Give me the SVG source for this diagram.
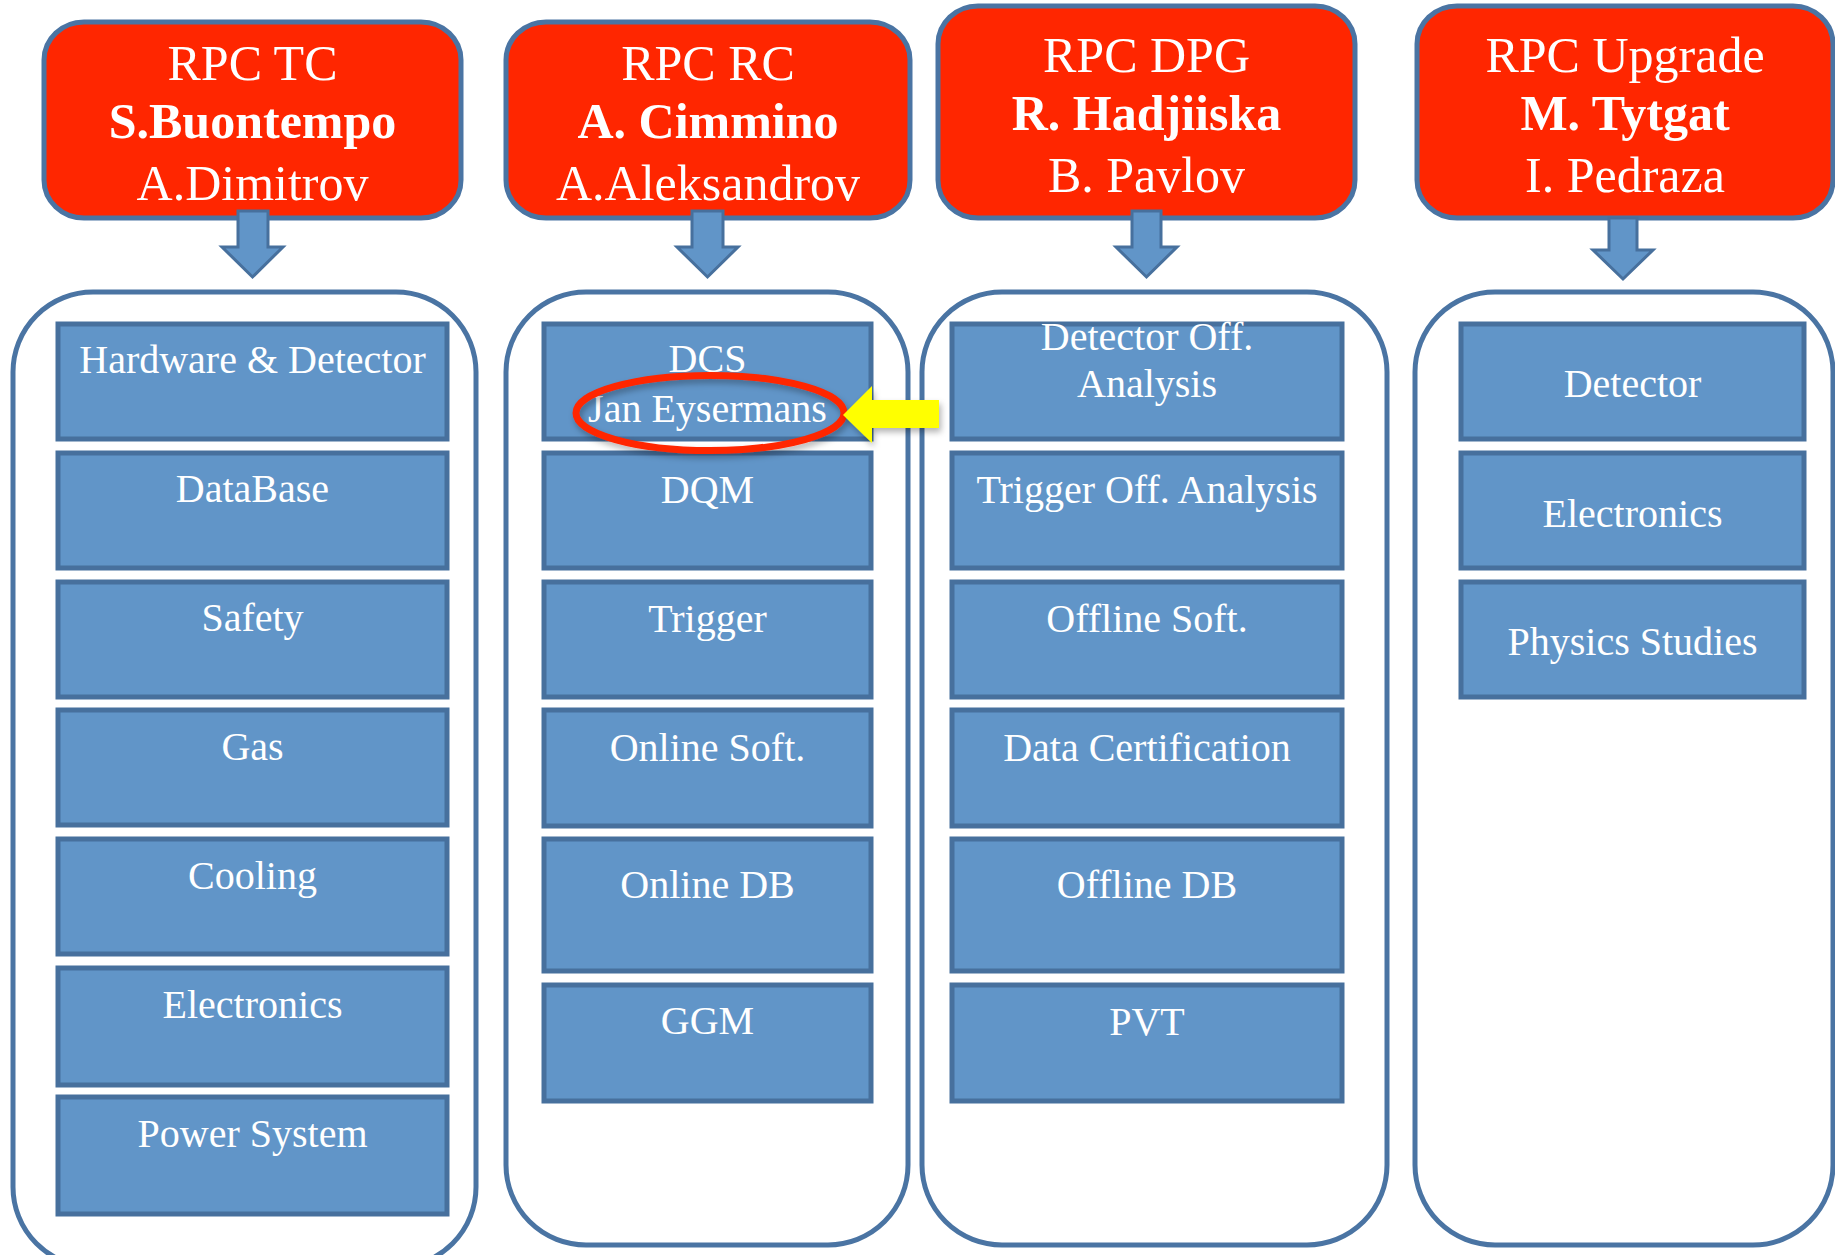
<svg xmlns="http://www.w3.org/2000/svg" width="1835" height="1255" viewBox="0 0 1835 1255">
<defs>
<style>
.hdr{fill:#ff2600;stroke:#4a74a3;stroke-width:5}
.col{fill:#ffffff;stroke:#4a74a3;stroke-width:5}
.box{fill:#6195c8;stroke:#47709d;stroke-width:5}
.ht{font-family:"Liberation Serif","Times New Roman",serif;font-size:50px;fill:#ffffff;text-anchor:middle}
.hb{font-weight:bold}
.bt{font-family:"Liberation Serif","Times New Roman",serif;font-size:40px;fill:#ffffff;text-anchor:middle}
.darr{fill:#6195c8;stroke:#47709d;stroke-width:3;stroke-linejoin:miter}
</style>
<filter id="sh" x="-20%" y="-20%" width="140%" height="160%">
<feDropShadow dx="2" dy="4" stdDeviation="3" flood-color="#000000" flood-opacity="0.3"/>
</filter>
</defs>
<rect x="0" y="0" width="1835" height="1255" fill="#ffffff"/>

<g id="col-tc"><rect class="col" x="13" y="292" width="463" height="975" rx="80" ry="80"/></g>
<g id="col-rc"><rect class="col" x="506" y="292" width="402" height="953" rx="80" ry="80"/></g>
<g id="col-dpg"><rect class="col" x="922" y="292" width="465" height="953" rx="80" ry="80"/></g>
<g id="col-up"><rect class="col" x="1415" y="292" width="418" height="953" rx="80" ry="80"/></g>

<g id="hdr-tc"><rect class="hdr" x="44" y="22" width="417" height="196" rx="40" ry="38"/>
<text class="ht" x="252.5" y="80">RPC TC</text>
<text class="ht hb" x="252.5" y="138">S.Buontempo</text>
<text class="ht" x="252.5" y="200">A.Dimitrov</text></g>
<g id="hdr-rc"><rect class="hdr" x="506" y="22" width="404" height="196" rx="40" ry="38"/>
<text class="ht" x="708" y="80">RPC RC</text>
<text class="ht hb" x="708" y="138">A. Cimmino</text>
<text class="ht" x="708" y="200">A.Aleksandrov</text></g>
<g id="hdr-dpg"><rect class="hdr" x="938" y="6" width="417" height="212" rx="40" ry="38"/>
<text class="ht" x="1146.5" y="72">RPC DPG</text>
<text class="ht hb" x="1146.5" y="130">R. Hadjiiska</text>
<text class="ht" x="1146.5" y="192">B. Pavlov</text></g>
<g id="hdr-up"><rect class="hdr" x="1417" y="6" width="416" height="212" rx="40" ry="38"/>
<text class="ht" x="1625" y="72">RPC Upgrade</text>
<text class="ht hb" x="1625" y="130">M. Tytgat</text>
<text class="ht" x="1625" y="192">I. Pedraza</text></g>

<g id="tc-hw"><rect class="box" x="58" y="324" width="389" height="115"/><text class="bt" x="252.5" y="373">Hardware &amp; Detector</text></g>
<g id="tc-db"><rect class="box" x="58" y="453" width="389" height="115"/><text class="bt" x="252.5" y="502">DataBase</text></g>
<g id="tc-safety"><rect class="box" x="58" y="582" width="389" height="115"/><text class="bt" x="252.5" y="631">Safety</text></g>
<g id="tc-gas"><rect class="box" x="58" y="710" width="389" height="115"/><text class="bt" x="252.5" y="760">Gas</text></g>
<g id="tc-cooling"><rect class="box" x="58" y="839" width="389" height="115"/><text class="bt" x="252.5" y="889">Cooling</text></g>
<g id="tc-elec"><rect class="box" x="58" y="968" width="389" height="117"/><text class="bt" x="252.5" y="1018">Electronics</text></g>
<g id="tc-power"><rect class="box" x="58" y="1097" width="389" height="117"/><text class="bt" x="252.5" y="1147">Power System</text></g>

<g id="rc-dcs"><rect class="box" x="544" y="324" width="327" height="115"/><text class="bt" x="707.5" y="372">DCS</text><text class="bt" x="707.5" y="422">Jan Eysermans</text></g>
<g id="rc-dqm"><rect class="box" x="544" y="453" width="327" height="115"/><text class="bt" x="707.5" y="503">DQM</text></g>
<g id="rc-trigger"><rect class="box" x="544" y="582" width="327" height="115"/><text class="bt" x="707.5" y="632">Trigger</text></g>
<g id="rc-onsoft"><rect class="box" x="544" y="710" width="327" height="116"/><text class="bt" x="707.5" y="761">Online Soft.</text></g>
<g id="rc-ondb"><rect class="box" x="544" y="839" width="327" height="132"/><text class="bt" x="707.5" y="898">Online DB</text></g>
<g id="rc-ggm"><rect class="box" x="544" y="985" width="327" height="116"/><text class="bt" x="707.5" y="1034">GGM</text></g>

<g id="dpg-det"><rect class="box" x="952" y="324" width="390" height="115"/><text class="bt" x="1147" y="350">Detector Off.</text><text class="bt" x="1147" y="397">Analysis</text></g>
<g id="dpg-trig"><rect class="box" x="952" y="453" width="390" height="115"/><text class="bt" x="1147" y="503">Trigger Off. Analysis</text></g>
<g id="dpg-offsoft"><rect class="box" x="952" y="582" width="390" height="115"/><text class="bt" x="1147" y="632">Offline Soft.</text></g>
<g id="dpg-cert"><rect class="box" x="952" y="710" width="390" height="116"/><text class="bt" x="1147" y="761">Data Certification</text></g>
<g id="dpg-offdb"><rect class="box" x="952" y="839" width="390" height="132"/><text class="bt" x="1147" y="898">Offline DB</text></g>
<g id="dpg-pvt"><rect class="box" x="952" y="985" width="390" height="116"/><text class="bt" x="1147" y="1035">PVT</text></g>

<g id="up-det"><rect class="box" x="1461" y="324" width="343" height="115"/><text class="bt" x="1632.5" y="397">Detector</text></g>
<g id="up-elec"><rect class="box" x="1461" y="453" width="343" height="115"/><text class="bt" x="1632.5" y="527">Electronics</text></g>
<g id="up-phys"><rect class="box" x="1461" y="582" width="343" height="115"/><text class="bt" x="1632.5" y="655">Physics Studies</text></g>

<g id="highlight">
<ellipse cx="710" cy="413" rx="134" ry="37.5" fill="none" stroke="#ff2600" stroke-width="7" filter="url(#sh)"/>
</g>

<g id="connectors">
<polygon class="darr" points="238,211 268,211 268,247 283,247 252.5,277 222,247 238,247"/>
<polygon class="darr" points="692,211 723,211 723,247 738,247 707.5,277 677,247 692,247"/>
<polygon class="darr" points="1132,211 1161,211 1161,247 1177,247 1146.5,277 1116,247 1132,247"/>
<polygon class="darr" points="1609,218 1637,218 1637,250 1653,250 1623,279 1593,250 1609,250"/>
<polygon points="843,415 872,386 872,400 939,400 939,428 872,428 872,443" fill="#ffff00" filter="url(#sh)"/>
</g>
</svg>
